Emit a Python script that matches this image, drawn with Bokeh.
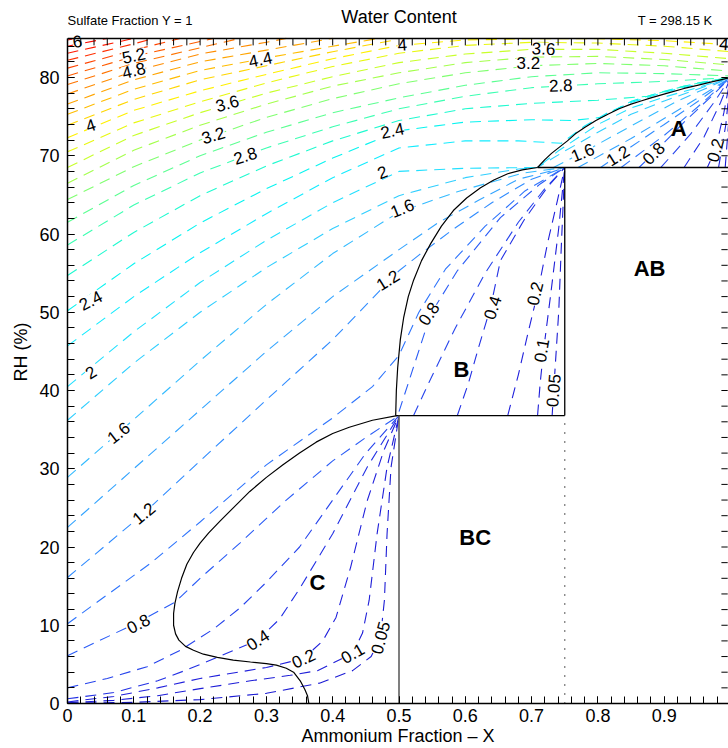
from bokeh.plotting import figure
from bokeh.models import ColumnDataSource, Range1d, FixedTicker
from bokeh.embed import file_html
from bokeh.resources import INLINE
from bokeh.core.properties import value

FONT = "Liberation Sans"

# ---------------- contour levels and their colours ----------------
LEVELS = [0.05, 0.1, 0.2, 0.4, 0.6, 0.8, 1.0, 1.2, 1.4, 1.6, 1.8, 2.0, 2.2, 2.4, 2.6, 2.8,
          3.0, 3.2, 3.4, 3.6, 3.8, 4.0, 4.2, 4.4, 4.6, 4.8, 5.0, 5.2, 5.4, 5.6, 5.8, 6.0, 6.2]
LEVEL_COLORS = ["#1c1cd4", "#1e1ed8", "#2020dc", "#2230e4", "#2644ec", "#2a5cf6", "#2e74fc",
                "#308cff", "#33a4ff", "#34bbff", "#30cfff", "#22e0ff", "#12ecff", "#08f4f0",
                "#20fad0", "#3cffb2", "#5cff92", "#80ff70", "#a4ff4c", "#c8ff2a", "#e8f810",
                "#fff000", "#ffd600", "#ffbc00", "#ffa400", "#ff8c00", "#ff7400", "#ff5c00",
                "#ff4400", "#ff2e00", "#ff1a00", "#f80800", "#ee0000"]

# plot limits
X_MAX = 1.0
RH_MAX = 85.0

# ---------------- liquid-region contours (level, [(X, RH), ...]) ----------------
D_LOW = [  # run from the left edge into region C
    (0.05, [(0, 0.05), (0.1, 0.15), (0.2, 0.5), (0.3, 1.3), (0.38, 2.6), (0.43, 4.2), (0.458, 6.0),
            (0.472, 8.4), (0.478, 13.2), (0.482, 21.7), (0.488, 30.2), (0.5, 36.8)]),
    (0.1, [(0, 0.1), (0.07, 0.4), (0.136, 1.0), (0.2, 1.9), (0.276, 2.9), (0.336, 3.6), (0.377, 4.2),
           (0.43, 6.4), (0.445, 9.0), (0.455, 13.2), (0.467, 21.7), (0.482, 30.2), (0.5, 36.8)]),
    (0.2, [(0, 0.2), (0.07, 0.9), (0.136, 2.0), (0.2, 3.2), (0.25, 3.9), (0.3, 4.6), (0.356, 5.75),
           (0.385, 8.0), (0.405, 11.0), (0.427, 17.4), (0.452, 25.9), (0.477, 32.3), (0.5, 36.8)]),
    (0.4, [(0, 0.6), (0.07, 1.4), (0.136, 2.9), (0.18, 4.3), (0.226, 5.9), (0.287, 8.1), (0.32, 10.8),
           (0.351, 14.8), (0.40, 21.7), (0.452, 30.2), (0.5, 36.8)]),
    (0.6, [(0, 2.0), (0.06, 3.2), (0.12, 4.7), (0.17, 6.8), (0.22, 9.5), (0.26, 12.2), (0.3, 15.5),
           (0.35, 20.0), (0.4, 26.0), (0.45, 32.0), (0.5, 36.8)]),
    (0.8, [(0, 6.1), (0.107, 10.4), (0.163, 13.0), (0.2, 16.0), (0.26, 20.5), (0.33, 26.0),
           (0.4, 31.0), (0.45, 34.0), (0.5, 36.8)]),
]
D_MID = [  # run into region B / along region A
    (1.0, [(0, 10.2), (0.125, 17.9), (0.2, 23.2), (0.3, 30.5), (0.4, 36.5), (0.46, 40.5), (0.5, 44.5),
           (0.53, 50.0), (0.57, 55.5), (0.63, 61.0), (0.69, 65.5), (0.75, 68.5)]),
    (1.2, [(0, 16.1), (0.115, 24.3), (0.2, 31.0), (0.3, 38.8), (0.4, 46.5), (0.5, 55.3), (0.53, 57.3),
           (0.58, 60.5), (0.64, 64.0), (0.7, 67.0), (0.75, 68.5)]),
    (1.4, [(0, 22.5), (0.1, 30.0), (0.2, 37.5), (0.3, 45.0), (0.4, 52.0), (0.5, 58.0), (0.56, 61.5),
           (0.62, 64.3), (0.68, 67.0), (0.75, 68.5)]),
    (1.6, [(0, 28.9), (0.1, 36.3), (0.2, 43.8), (0.3, 51.0), (0.4, 57.5), (0.5, 62.8), (0.588, 65.4),
           (0.688, 67.8), (0.75, 68.5)]),
    (1.8, [(0, 36.2), (0.1, 43.5), (0.2, 50.0), (0.3, 55.7), (0.4, 60.7), (0.5, 64.9), (0.6, 67.2),
           (0.68, 68.3), (0.709, 68.5), (0.75, 70.6), (0.8, 73.0), (0.85, 75.3), (0.9, 77.0),
           (0.95, 78.5), (1.0, 80.0)]),
    (2.0, [(0, 40.5), (0.1, 47.5), (0.2, 53.8), (0.3, 59.2), (0.4, 64.0), (0.5, 68.0), (0.6, 68.4),
           (0.709, 68.5), (0.74, 70.6), (0.8, 74.0), (0.85, 76.1), (0.9, 77.5), (0.95, 78.7), (1.0, 80.0)]),
    (2.2, [(0, 45.7), (0.1, 52.0), (0.2, 57.6), (0.3, 62.6), (0.4, 67.2), (0.5, 71.0), (0.6, 71.9),
           (0.68, 71.9), (0.745, 71.6), (0.78, 73.8), (0.815, 75.5), (0.85, 76.8), (0.9, 78.1),
           (0.95, 79.15), (1.0, 80.0)]),
    (2.4, [(0, 50.2), (0.1, 56.2), (0.2, 61.4), (0.3, 65.8), (0.4, 69.7), (0.5, 73.2), (0.6, 74.3),
           (0.7, 74.6), (0.76, 74.5), (0.805, 74.9), (0.85, 76.95), (0.9, 78.25), (0.95, 79.3), (1.0, 80.0)]),
    (2.6, [(0, 54.7), (0.1, 60.2), (0.2, 64.9), (0.3, 68.7), (0.4, 71.9), (0.5, 74.5), (0.6, 76.0),
           (0.7, 76.7), (0.8, 77.1), (0.875, 77.6), (0.93, 78.9), (0.97, 79.6), (1.0, 80.0)]),
]
X_GRID = [0.0, 0.1, 0.2, 0.3, 0.4, 0.5, 0.6, 0.7, 0.8, 0.9, 1.0]
D_ARCS = [  # RH at X_GRID
    (2.8, [58.6, 63.7, 67.8, 71.0, 73.7, 76.0, 77.6, 78.7, 79.2, 79.5, 80.0]),
    (3.0, [61.5, 66.2, 70.0, 73.0, 75.5, 77.4, 79.0, 80.1, 80.6, 80.5, 80.2]),
    (3.2, [64.4, 68.6, 72.0, 74.9, 77.3, 79.2, 80.6, 81.5, 81.8, 81.5, 80.8]),
    (3.4, [66.5, 70.7, 73.9, 76.6, 78.9, 80.6, 81.9, 82.6, 82.7, 82.3, 81.6]),
    (3.6, [68.5, 72.6, 75.5, 78.0, 80.1, 81.9, 83.0, 83.6, 83.6, 83.1, 82.4]),
    (3.8, [70.5, 74.2, 76.9, 79.3, 81.4, 83.1, 84.1, 84.5, 84.4, 84.0, 83.3]),
    (4.0, [72.3, 75.8, 78.3, 80.4, 82.4, 84.1, 84.8, 84.95, 84.95, 84.7, 84.2]),
]
D_TOP = [  # leave through the top edge
    (4.2, [(0, 73.9), (0.1, 77.2), (0.2, 79.7), (0.3, 81.5), (0.4, 83.3), (0.5, 84.9), (0.52, 85.0)]),
    (4.4, [(0, 75.3), (0.1, 78.5), (0.2, 80.9), (0.3, 82.5), (0.4, 84.0), (0.47, 85.0)]),
    (4.6, [(0, 76.6), (0.1, 79.7), (0.2, 82.0), (0.3, 83.5), (0.4, 85.0)]),
    (4.8, [(0, 77.9), (0.1, 80.8), (0.2, 83.0), (0.3, 84.5), (0.33, 85.0)]),
    (5.0, [(0, 79.1), (0.1, 81.8), (0.2, 83.8), (0.26, 85.0)]),
    (5.2, [(0, 80.2), (0.1, 82.7), (0.2, 84.6), (0.22, 85.0)]),
    (5.4, [(0, 81.2), (0.1, 83.5), (0.17, 85.0)]),
    (5.6, [(0, 82.2), (0.1, 84.3), (0.13, 85.0)]),
    (5.8, [(0, 83.1), (0.1, 85.0)]),
    (6.0, [(0, 84.0), (0.06, 85.0)]),
    (6.2, [(0, 84.8), (0.012, 85.0)]),
]
B_LINES = [
    (0.8, [(0.5, 37.3), (0.52, 42.5), (0.548, 49.8), (0.588, 55.3), (0.653, 62.1), (0.713, 66.4), (0.75, 68.5)]),
    (0.6, [(0.522, 36.8), (0.545, 41.0), (0.585, 48.0), (0.63, 55.0), (0.68, 61.5), (0.72, 65.8), (0.75, 68.5)]),
    (0.4, [(0.588, 36.8), (0.605, 41.0), (0.62, 45.5), (0.638, 50.6), (0.653, 56.6), (0.688, 61.7),
           (0.724, 66.0), (0.75, 68.5)]),
    (0.2, [(0.664, 36.8), (0.68, 42.0), (0.695, 47.5), (0.709, 52.4), (0.724, 58.8), (0.739, 64.3), (0.75, 68.5)]),
    (0.1, [(0.709, 36.8), (0.713, 41.0), (0.718, 45.1), (0.729, 52.4), (0.741, 60.8), (0.75, 68.5)]),
    (0.05, [(0.731, 36.8), (0.733, 39.6), (0.741, 50.2), (0.745, 58.8), (0.75, 68.5)]),
]
A_LINES = [
    (1.6, [(0.733, 68.5), (0.777, 70.4), (0.85, 73.8), (0.92, 77.0), (1.0, 80.0)]),
    (1.4, [(0.77, 68.5), (0.85, 72.2), (0.93, 76.3), (1.0, 80.0)]),
    (1.2, [(0.804, 68.5), (0.83, 70.0), (0.9, 74.0), (0.95, 76.9), (1.0, 80.0)]),
    (1.0, [(0.835, 68.5), (0.9, 72.6), (0.95, 76.2), (1.0, 80.0)]),
    (0.8, [(0.862, 68.5), (0.884, 70.3), (0.93, 74.3), (0.97, 77.5), (1.0, 80.0)]),
    (0.6, [(0.895, 68.5), (0.94, 72.8), (0.975, 76.8), (1.0, 80.0)]),
    (0.4, [(0.93, 68.5), (0.96, 72.4), (0.985, 76.8), (1.0, 80.0)]),
    (0.2, [(0.965, 68.5), (0.977, 70.7), (0.99, 75.5), (1.0, 80.0)]),
    (0.1, [(0.982, 68.5), (0.993, 74.0), (1.0, 80.0)]),
    (0.05, [(0.992, 68.5), (0.997, 74.0), (1.0, 80.0)]),
]

# ---------------- phase boundaries ----------------
A_CURVE = [(0.709, 68.5), (0.72, 69.5), (0.73, 70.3), (0.742, 71.1), (0.754, 71.9), (0.766, 72.8),
           (0.78, 73.6), (0.797, 74.5), (0.815, 75.3), (0.832, 76.0), (0.85, 76.6), (0.865, 77.0),
           (0.88, 77.4), (0.905, 78.0), (0.93, 78.6), (0.95, 79.0), (0.97, 79.4), (0.985, 79.7), (1.0, 80.0)]
B_CURVE = [(0.495, 36.8), (0.496, 40.0), (0.498, 42.9), (0.502, 46.5), (0.507, 49.3), (0.514, 52.0),
           (0.522, 54.1), (0.534, 56.6), (0.548, 58.8), (0.564, 61.0), (0.582, 63.0), (0.602, 64.6),
           (0.623, 65.9), (0.643, 66.9), (0.664, 67.7), (0.686, 68.2), (0.709, 68.5)]
C_CURVE = [(0.497, 36.8), (0.46, 36.2), (0.425, 35.3), (0.40, 34.5), (0.375, 33.4), (0.35, 32.0),
           (0.325, 30.5), (0.30, 28.9), (0.275, 27.1), (0.25, 25.0), (0.23, 23.3), (0.213, 21.8),
           (0.20, 20.5), (0.19, 19.3), (0.18, 17.8), (0.172, 16.0), (0.166, 14.3), (0.162, 12.8),
           (0.16, 11.5), (0.16, 10.0), (0.163, 8.9), (0.168, 8.1), (0.178, 7.3), (0.19, 6.8),
           (0.205, 6.3), (0.226, 5.9), (0.25, 5.55), (0.276, 5.3), (0.30, 5.1), (0.315, 4.9),
           (0.33, 4.5), (0.341, 4.0), (0.351, 2.9), (0.358, 1.8), (0.362, 1.0), (0.364, 0.0)]
SOLID_EDGES = [[(0.709, 68.5), (1.0, 68.5)], [(0.75, 36.8), (0.75, 68.5)], [(0.495, 36.8), (0.75, 36.8)]]
GRAY_EDGE = [(0.5, 0.0), (0.5, 36.8)]
DOTTED_EDGE = [(0.75, 0.0), (0.75, 36.8)]

# ---------------- contour labels: text, X, RH, angle (deg) ----------------
CONTOUR_LABELS = [
    ("6", 0.015, 84.6, 8), ("5.2", 0.10, 82.8, 12), ("4.8", 0.10, 80.9, 14), ("4.4", 0.291, 82.3, 12),
    ("4", 0.505, 84.2, 4), ("3.6", 0.718, 83.7, -2), ("3.2", 0.695, 81.8, 0), ("2.8", 0.744, 79.0, 2),
    ("4", 0.99, 84.3, -5), ("4", 0.035, 73.9, 18), ("3.6", 0.241, 76.7, 15), ("3.2", 0.22, 72.6, 17),
    ("2.8", 0.268, 70.0, 17), ("2.4", 0.49, 73.2, 12), ("2", 0.475, 67.9, 20), ("1.6", 0.505, 63.3, 22),
    ("1.2", 0.483, 54.1, 32), ("2.4", 0.035, 51.5, 28), ("2", 0.035, 42.3, 32), ("1.6", 0.077, 34.6, 38),
    ("1.2", 0.115, 24.3, 40), ("0.8", 0.107, 10.2, 28),
    ("0.4", 0.287, 8.1, 33), ("0.2", 0.356, 5.75, 25), ("0.1", 0.43, 6.4, 30), ("0.05", 0.472, 8.4, 75),
    ("0.8", 0.545, 49.8, 55), ("0.4", 0.641, 50.6, 72), ("0.2", 0.705, 52.4, 76), ("0.1", 0.715, 45.1, 80),
    ("0.05", 0.733, 40.0, 85),
    ("1.6", 0.777, 70.4, 22), ("1.2", 0.83, 70.0, 32), ("0.8", 0.884, 70.3, 45), ("0.2", 0.977, 70.7, 75),
]
REGION_LABELS = [("A", 0.922, 73.5), ("AB", 0.878, 55.6), ("B", 0.594, 42.7), ("BC", 0.615, 21.2), ("C", 0.377, 15.5)]

# header texts: text, X, RH (above the box), size, align
HEADERS = [("Water Content", 0.5, 87.75, "18px", "center"),
           ("Sulfate Fraction Y = 1", 0.0, 87.25, "13px", "left"),
           ("T = 298.15 K", 0.86, 87.25, "13px", "left")]

X_TICKS = [0, 0.1, 0.2, 0.3, 0.4, 0.5, 0.6, 0.7, 0.8, 0.9, 1.0]
Y_TICKS = [0, 10, 20, 30, 40, 50, 60, 70, 80]
X_MINOR = [round(i * 0.02, 2) for i in range(51)]
Y_MINOR = list(range(0, 86, 2))

# ---------------- geometry of the page ----------------
FRAME_LEFT, FRAME_W = 67, 661        # px
FRAME_H = 703                        # px  (box top at 38 px, RH 85)
PX_PER_X = 663.0
PX_PER_RH = 7.825
TICK_PX = 7


def level_color(lev):
    i = min(range(len(LEVELS)), key=lambda k: abs(LEVELS[k] - lev))
    return LEVEL_COLORS[i]


xs, ys, cols = [], [], []
for group in (D_LOW, D_MID, B_LINES, A_LINES, D_TOP):
    for lev, pts in group:
        xs.append([q[0] for q in pts])
        ys.append([q[1] for q in pts])
        cols.append(level_color(lev))
for lev, vals in D_ARCS:
    xs.append(X_GRID[:len(vals)])
    ys.append(vals)
    cols.append(level_color(lev))

p = figure(frame_width=FRAME_W, frame_height=FRAME_H,
           x_range=Range1d(0, FRAME_W / PX_PER_X), y_range=Range1d(0, FRAME_H / PX_PER_RH),
           output_backend="svg", toolbar_location=None,
           min_border_left=FRAME_LEFT, min_border_top=0, min_border_right=0, min_border_bottom=45)
p.outline_line_color = None
p.xgrid.visible = False
p.ygrid.visible = False
p.background_fill_color = "white"
p.border_fill_color = "white"

p.multi_line(xs="xs", ys="ys", line_color="color", line_width=1.1, line_dash="11 7",
             source=ColumnDataSource(dict(xs=xs, ys=ys, color=cols)))

for curve in (A_CURVE, B_CURVE, C_CURVE):
    p.line([c[0] for c in curve], [c[1] for c in curve], line_color="black", line_width=1.2)
for seg in SOLID_EDGES:
    p.line([c[0] for c in seg], [c[1] for c in seg], line_color="black", line_width=1.3)
p.line([c[0] for c in GRAY_EDGE], [c[1] for c in GRAY_EDGE], line_color="#555555", line_width=1.5)
p.line([c[0] for c in DOTTED_EDGE], [c[1] for c in DOTTED_EDGE], line_color="black", line_width=1.3,
       line_dash="1 8")

lab_src = ColumnDataSource(dict(
    x=[l[1] for l in CONTOUR_LABELS], y=[l[2] for l in CONTOUR_LABELS],
    text=[l[0] for l in CONTOUR_LABELS], angle=[l[3] * 3.14159265 / 180 for l in CONTOUR_LABELS]))
p.text(x="x", y="y", text="text", angle="angle", source=lab_src, text_font=value(FONT),
       text_font_size="17px", text_align="center", text_baseline="middle", text_color="black",
       background_fill_color="white")

reg_src = ColumnDataSource(dict(x=[r[1] for r in REGION_LABELS], y=[r[2] for r in REGION_LABELS],
                                text=[r[0] for r in REGION_LABELS]))
p.text(x="x", y="y", text="text", source=reg_src, text_font=value(FONT), text_font_size="22px",
       text_font_style="bold", text_align="center", text_baseline="middle", text_color="black")

# top edge of the box, with inward ticks on the top and right edges (each tick its own path)
p.line([X_TICKS[0], X_TICKS[-1]], [RH_MAX, RH_MAX], line_color="black", line_width=1.5)
dy_tick = TICK_PX / PX_PER_RH
dx_tick = TICK_PX / PX_PER_X
tick_xs = [[t, t] for t in X_MINOR] + [[X_MAX - 0.4 * dx_tick, X_MAX - 1.3 * dx_tick] for _ in Y_MINOR]
tick_ys = [[RH_MAX, RH_MAX - dy_tick] for _ in X_MINOR] + [[t, t] for t in Y_MINOR]
p.multi_line(xs=tick_xs, ys=tick_ys, line_color="black", line_width=1)

for txt, hx, hy, size, align in HEADERS:
    p.text(x=[hx], y=[hy], text=[txt], text_font=value(FONT), text_font_size=size,
           text_align=align, text_baseline="middle", text_color="black")

# ---------------- axes ----------------
xa = p.xaxis[0]
ya = p.yaxis[0]
xa.ticker = FixedTicker(ticks=X_TICKS, minor_ticks=X_MINOR)
ya.ticker = FixedTicker(ticks=Y_TICKS, minor_ticks=Y_MINOR)
xa.bounds = (0, X_MAX)
ya.bounds = (0, RH_MAX)
for ax in (xa, ya):
    ax.axis_line_color = "black"
    ax.axis_line_width = 1.5
    ax.major_tick_in = TICK_PX
    ax.major_tick_out = 0
    ax.minor_tick_in = TICK_PX
    ax.minor_tick_out = 0
    ax.major_tick_line_color = "black"
    ax.minor_tick_line_color = "black"
    ax.major_label_text_font = FONT
    ax.major_label_text_font_size = "18px"
    ax.major_label_text_color = "black"
    ax.axis_label_text_font = FONT
    ax.axis_label_text_font_size = "18px"
    ax.axis_label_text_font_style = "normal"
    ax.axis_label_text_color = "black"

xa.major_label_overrides = {0: "0", 1: "1"}
xa.major_label_standoff = 5
xa.axis_label = "Ammonium Fraction \u2013 X"
xa.axis_label_standoff = 1

ya.major_label_standoff = 8
ya.axis_label = "RH (%)"
ya.axis_label_standoff = 5

open("out.html", "w").write(file_html(p, INLINE))
